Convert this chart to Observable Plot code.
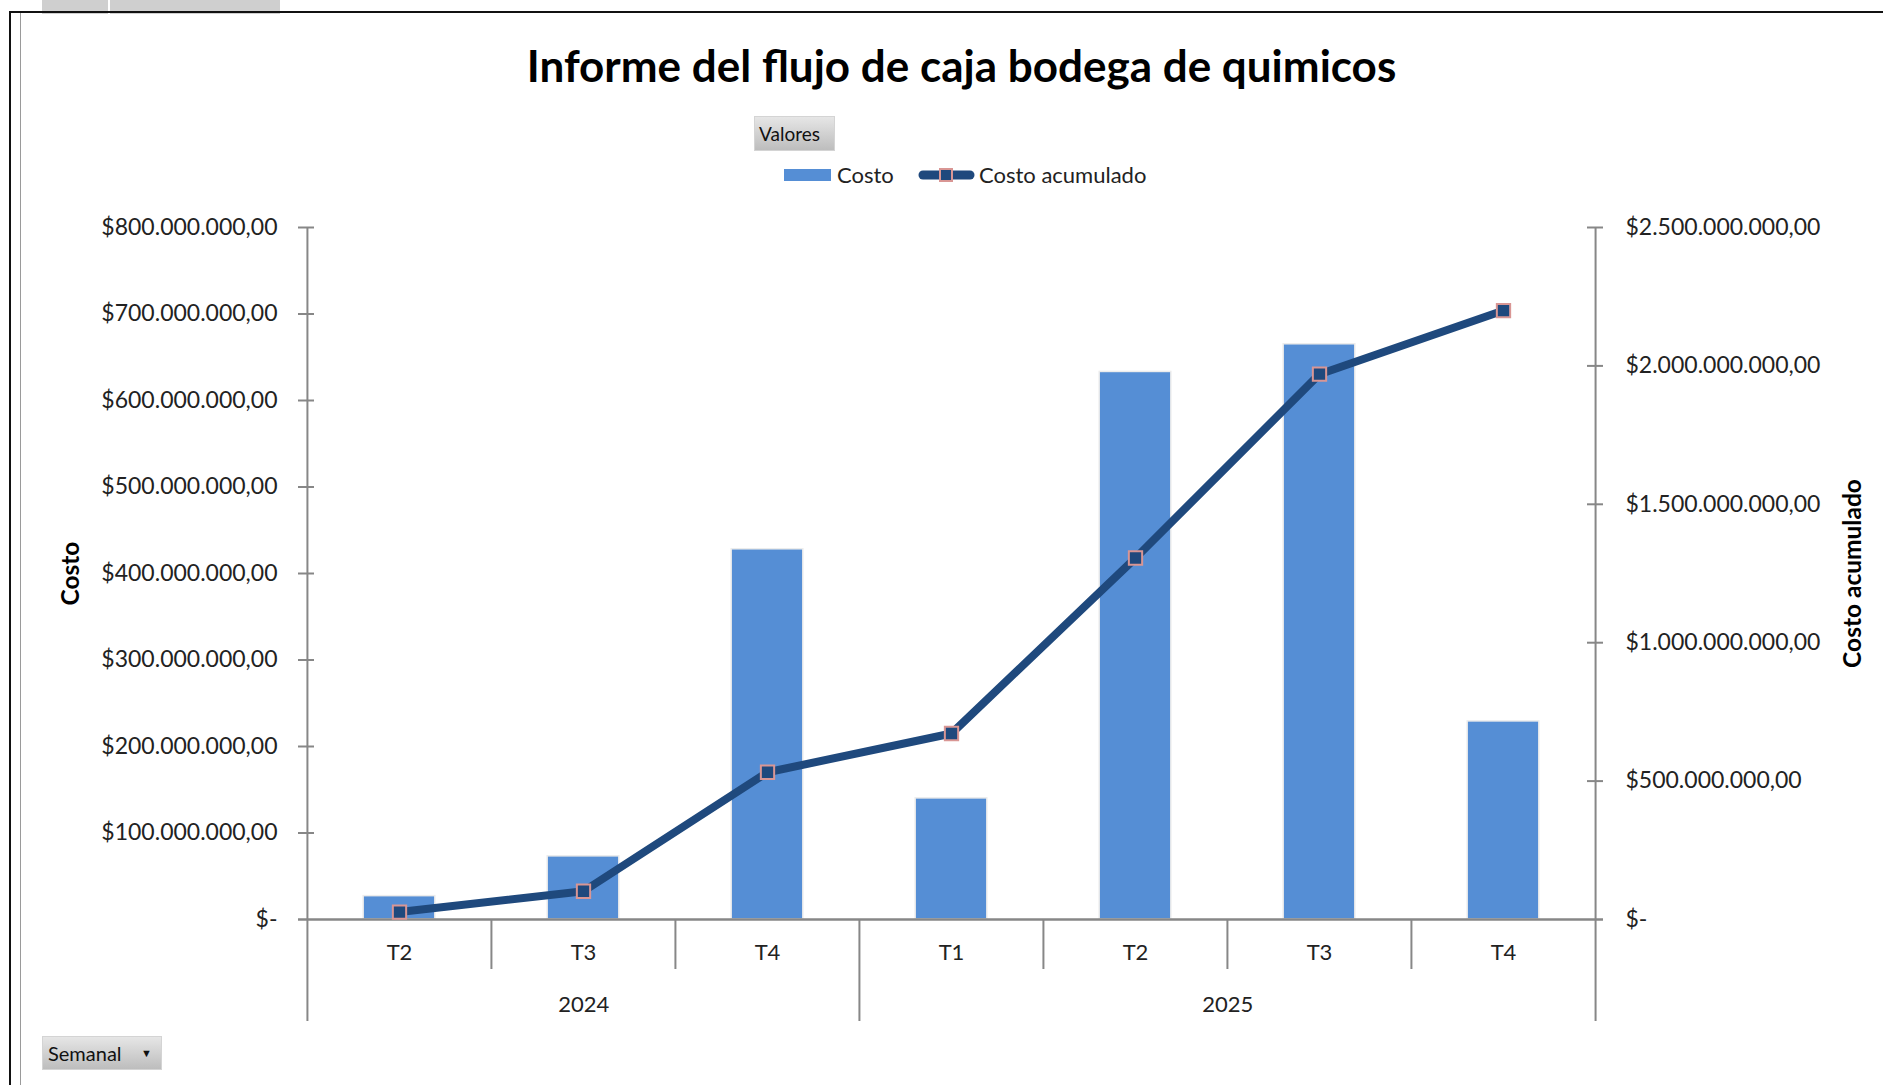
<!DOCTYPE html>
<html>
<head>
<meta charset="utf-8">
<script src="https://cdn.jsdelivr.net/npm/d3@7"></script>
<script src="https://cdn.jsdelivr.net/npm/@observablehq/plot@0.6"></script>
<style>
  body { margin: 0; background: #fff; font-family: Lato, "Open Sans", sans-serif; }
  #page { position: relative; width: 1883px; height: 1085px; overflow: hidden; background: #fff; }
  #header { position: relative; height: 195px; }
  #chart { position: relative; height: 890px; }
  #chart svg { display: block; }
  .tab { position: absolute; top: 0; height: 14px; background: #cfcfcf; }
  #frameTop { position: absolute; left: 9px; top: 11px; width: 1874px; height: 2px; background: #111; }
  #frameLeft { position: absolute; left: 9px; top: 11px; width: 2px; height: 1074px; background: #111; }
  #frameLeft2 { position: absolute; left: 20px; top: 13px; width: 1px; height: 1072px; background: #9a9a9a; }
  #title { position: absolute; left: 0; width: 1923px; top: 39px; text-align: center; font-size: 44px; font-weight: 700; color: #000; }
  .btn { position: absolute; background: linear-gradient(#e6e6e6, #bdbdbd); border: 1px solid #d4d4d4; color: #111; font-size: 19px; box-sizing: border-box; }
  #valores { left: 754px; top: 116px; width: 81px; height: 35px; line-height: 33px; padding-left: 4px; }
  #semanal { left: 42px; top: 1036px; width: 120px; height: 34px; line-height: 32px; padding-left: 5px; font-size: 20px; }
  #semanal span { position: absolute; left: 98px; top: 0; font-size: 11px; }
  #legend { position: absolute; left: 784px; top: 160px; height: 30px; font-size: 22px; color: #222; }
  #legend .item { position: absolute; top: 0; white-space: nowrap; line-height: 30px; }
</style>
</head>
<body>
<div id="page">
  <div id="header">
    <div class="tab" style="left:42px;width:66px"></div>
    <div class="tab" style="left:110px;width:170px"></div>
    <div id="title">Informe del flujo de caja bodega de quimicos</div>
    <div id="valores" class="btn">Valores</div>
    <div id="legend">
      <div class="item" style="left:0">
        <svg width="48" height="30" style="vertical-align:top"><rect x="0" y="9" width="47" height="12" fill="#558ED5"></rect></svg><span style="position:absolute;left:53px;top:0">Costo</span>
      </div>
      <div class="item" style="left:134px">
        <svg width="60" height="30" style="vertical-align:top"><line x1="5" y1="15" x2="52" y2="15" stroke="#1F497D" stroke-width="9" stroke-linecap="round"></line><rect x="22" y="9" width="12" height="12" fill="#1F497D" stroke="#D99694" stroke-width="2"></rect></svg><span style="position:absolute;left:61px;top:0">Costo acumulado</span>
      </div>
    </div>
  </div>
  <div id="chart"></div>
  <div id="semanal" class="btn">Semanal<span>&#9660;</span></div>
  <div id="frameTop"></div>
  <div id="frameLeft"></div>
  <div id="frameLeft2"></div>
</div>
<script>
// ---- Data ----
const anos = ["2024", "2024", "2024", "2025", "2025", "2025", "2025"];
const trimestres = ["T2", "T3", "T4", "T1", "T2", "T3", "T4"];
const costo = [27e6, 73e6, 428e6, 140e6, 633e6, 665e6, 229e6];
const costoAcumulado = [27e6, 102e6, 532e6, 672e6, 1306e6, 1970e6, 2200e6];
const ticksCosto = [0, 100e6, 200e6, 300e6, 400e6, 500e6, 600e6, 700e6, 800e6];
const ticksAcumulado = [0, 500e6, 1000e6, 1500e6, 2000e6, 2500e6];

// ---- Layout ----
const W = 1883, H = 890, mL = 306, mR = 288, mT = 32, mB = 166;
const plotW = W - mL - mR, plotH = H - mT - mB;

const data = trimestres.map((t, i) => ({
  key: anos[i] + " " + t, ano: anos[i], trimestre: t,
  costo: costo[i], acumulado: costoAcumulado[i]
}));
const keys = data.map(d => d.key);
const bw = plotW / keys.length;
const k = ticksCosto[ticksCosto.length - 1] / ticksAcumulado[ticksAcumulado.length - 1];

const locale = d3.formatLocale({decimal: ",", thousands: ".", grouping: [3], currency: ["$", ""]});
const money = locale.format("$,.2f");
const fmt = v => Math.abs(v) < 1 ? "$-" : money(v);

// year groups
const years = Array.from(new Set(anos));
const groups = years.map(y => {
  const idx = anos.map((a, i) => a === y ? i : -1).filter(i => i >= 0);
  return {ano: y, first: keys[idx[0]], n: idx.length};
});
// boundaries (left edge of each band)
const bounds = keys.map((key, i) => ({key, long: i === 0 || anos[i] !== anos[i - 1]}));

const axisColor = "#878787";
const textColor = "#222";

const marks = [
  Plot.barY(data, {x: "key", y: "costo", fill: "#558ED5", stroke: "#ececec", strokeWidth: 1.5,
    insetLeft: bw * 0.305, insetRight: bw * 0.305}),
  // baseline
  Plot.ruleY([0], {stroke: axisColor, strokeWidth: 2.5, insetLeft: -8, insetRight: -8}),
  // left axis line (full height, extends below)
  Plot.ruleX([keys[0]], {x: d => d, dx: -bw / 2, stroke: axisColor, strokeWidth: 2, insetBottom: -102}),
  // right axis line
  Plot.ruleX([keys[keys.length - 1]], {x: d => d, dx: bw / 2, stroke: axisColor, strokeWidth: 2, insetBottom: -102}),
  // category separators below axis
  Plot.ruleX(bounds.filter((b, i) => i > 0 && b.long), {x: "key", dx: -bw / 2, stroke: axisColor, strokeWidth: 2, insetTop: plotH, insetBottom: -102}),
  Plot.ruleX(bounds.filter(b => !b.long), {x: "key", dx: -bw / 2, stroke: axisColor, strokeWidth: 2, insetTop: plotH, insetBottom: -50}),
  // crossing tick marks
  Plot.ruleY(ticksCosto.filter(v => v > 0), {stroke: axisColor, strokeWidth: 2, insetLeft: -8, insetRight: plotW - 8}),
  Plot.ruleY(ticksAcumulado.filter(v => v > 0).map(v => v * k), {stroke: axisColor, strokeWidth: 2, insetLeft: plotW - 8, insetRight: -8}),
  // tick labels
  Plot.axisY(ticksCosto, {anchor: "left", tickSize: 0, tickPadding: 29, tickFormat: fmt, label: null, fill: textColor, fontSize: 23}),
  Plot.axisY(ticksAcumulado.map(v => v * k), {anchor: "right", tickSize: 0, tickPadding: 30, tickFormat: v => fmt(v / k), label: null, fill: textColor, fontSize: 23}),
  Plot.text(data, {x: "key", text: "trimestre", frameAnchor: "bottom", dy: 40, fill: textColor, fontSize: 22}),
  ...groups.map(g => Plot.text([g], {x: "first", text: "ano", frameAnchor: "bottom", dy: 92, dx: (g.n - 1) * bw / 2, fill: textColor, fontSize: 22})),
  // axis titles
  Plot.text(["Costo"], {text: d => d, frameAnchor: "left", textAnchor: "middle", dx: -235, rotate: -90, fontWeight: "bold", fill: "#000", fontSize: 24.5}),
  Plot.text(["Costo acumulado"], {text: d => d, frameAnchor: "right", textAnchor: "middle", dx: 258, rotate: -90, fontWeight: "bold", fill: "#000", fontSize: 24.5}),
  // cumulative line
  Plot.line(data, {x: "key", y: d => d.acumulado * k, stroke: "#1F497D", strokeWidth: 8, strokeLinejoin: "round", strokeLinecap: "round"}),
  Plot.dot(data, {x: "key", y: d => d.acumulado * k, symbol: "square", r: 7.5, fill: "#1F497D", stroke: "#D99694", strokeWidth: 2})
];

const chart = Plot.plot({
  width: W, height: H,
  marginLeft: mL, marginRight: mR, marginTop: mT, marginBottom: mB,
  style: {fontFamily: "Lato, 'Open Sans', sans-serif", fontSize: "22px", background: "transparent", overflow: "visible"},
  x: {type: "band", domain: keys, padding: 0, axis: null},
  y: {domain: [ticksCosto[0], ticksCosto[ticksCosto.length - 1]], axis: null},
  marks
});
document.getElementById("chart").appendChild(chart);
</script>
</body>
</html>
